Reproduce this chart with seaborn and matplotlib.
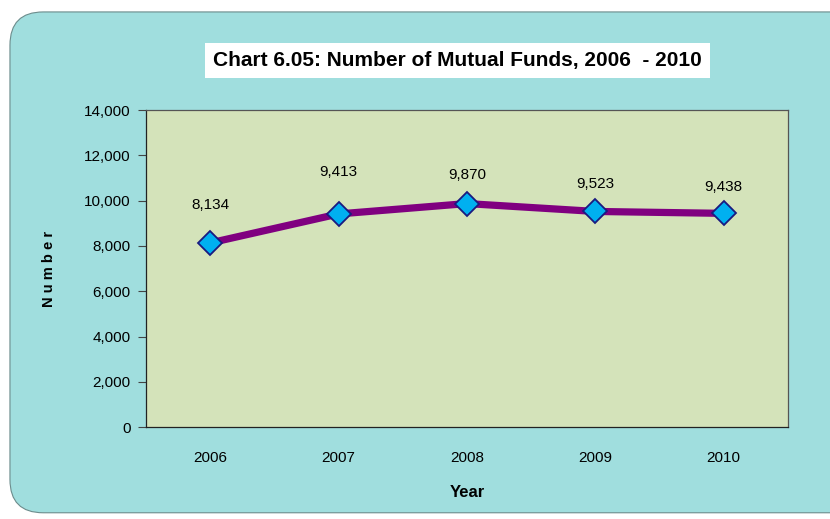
import seaborn as sns
import matplotlib.pyplot as plt
import pandas as pd
from matplotlib.patches import FancyBboxPatch
from matplotlib.ticker import FuncFormatter

# chart data
years = ["2006", "2007", "2008", "2009", "2010"]
num_funds = [8134, 9413, 9870, 9523, 9438]

# label offsets above points (pixels), as in the original
label_dy = [38, 42, 29, 27, 26]

df = pd.DataFrame({"Year": years, "Number": num_funds})

sns.set_style("white")
plt.rcParams['font.family'] = ['Liberation Sans', 'DejaVu Sans']
plt.rcParams['text.color'] = 'black'
plt.rcParams['axes.labelcolor'] = 'black'
plt.rcParams['xtick.color'] = 'black'
plt.rcParams['ytick.color'] = 'black'

fig = plt.figure(figsize=(8.3, 5.19), dpi=100)
fig.patch.set_facecolor("white")

# rounded teal background
bg = FancyBboxPatch((0.012, 0.012), 1.05, 0.965, boxstyle="round,pad=0,rounding_size=0.04",
                    transform=fig.transFigure, facecolor="#A0DEDE", edgecolor="#6c8c8c",
                    linewidth=0.8, zorder=-5, mutation_aspect=830 / 519)
fig.patches.append(bg)

ax = fig.add_axes([0.176, 0.177, 0.773, 0.611])
ax.set_zorder(2)
ax.set_facecolor("#D4E3BA")

sns.lineplot(data=df, x="Year", y="Number", ax=ax, color="#800080", linewidth=5.2,
             marker="D", markersize=12, markerfacecolor="#00B0F0",
             markeredgecolor="#1a1a80", markeredgewidth=1.3, sort=False)

for i, (yr, v) in enumerate(zip(years, num_funds)):
    ax.annotate(f"{v:,}", (i, v), xytext=(0, label_dy[i] * 0.72), textcoords="offset points",
                ha="center", va="center", fontsize=11)

ax.set_xlim(-0.5, 4.5)
ax.set_ylim(0, 14000)
ax.set_yticks(range(0, 14001, 2000))
ax.yaxis.set_major_formatter(FuncFormatter(lambda v, p: f"{int(v):,}"))
ax.tick_params(axis="y", which="both", left=True, length=6, width=0.8, color="#444444",
               labelsize=11, pad=5)
ax.tick_params(axis="x", bottom=False, labelsize=11, pad=14)

for s in ax.spines.values():
    s.set_color("#555555")
    s.set_linewidth(0.9)
ax.spines["left"].set_color("#222222")
ax.spines["bottom"].set_color("#222222")

ax.set_xlabel("Year", fontsize=12, fontweight="bold", labelpad=14)
ax.set_ylabel("N u m b e r", fontsize=10.5, fontweight="bold", labelpad=20)

fig.text(0.551, 0.884, "Chart 6.05: Number of Mutual Funds, 2006  - 2010", ha="center", va="center",
         fontsize=15, fontweight="bold",
         bbox=dict(boxstyle="square,pad=0.38", facecolor="white", edgecolor="none"))

fig.savefig("out.png", dpi=100)
